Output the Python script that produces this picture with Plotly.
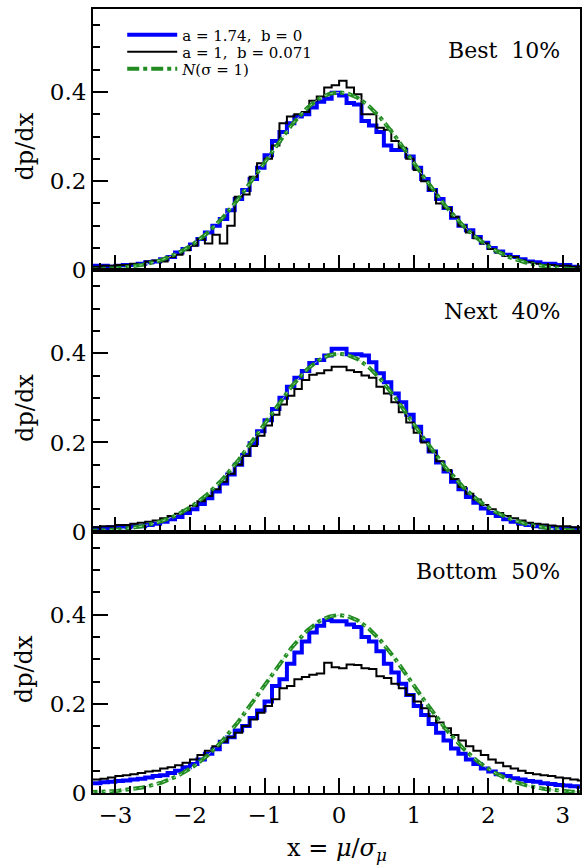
import numpy as np
import plotly.graph_objects as go
from plotly.subplots import make_subplots

# bins of width 0.1 from -3.3 to 3.3 (66 bins)
bin_edges = np.round(np.linspace(-3.3, 3.3, 67), 2)

top_blue = [0.010, 0.010, 0.008, 0.010, 0.012, 0.012, 0.015, 0.018, 0.020, 0.025, 0.030, 0.040, 0.048,
            0.058, 0.070, 0.085, 0.100, 0.115, 0.135, 0.160, 0.180, 0.205, 0.230, 0.258, 0.290, 0.310,
            0.330, 0.345, 0.350, 0.365, 0.378, 0.385, 0.398, 0.392, 0.375, 0.372, 0.335, 0.325, 0.310,
            0.280, 0.270, 0.270, 0.255, 0.230, 0.205, 0.180, 0.160, 0.140, 0.118, 0.100, 0.090, 0.075,
            0.062, 0.050, 0.042, 0.035, 0.030, 0.025, 0.020, 0.018, 0.015, 0.015, 0.012, 0.012, 0.008, 0.006]
top_black = [0.008, 0.010, 0.010, 0.012, 0.012, 0.015, 0.012, 0.020, 0.022, 0.020, 0.030, 0.035, 0.045,
             0.055, 0.070, 0.060, 0.080, 0.060, 0.100, 0.165, 0.170, 0.210, 0.240, 0.250, 0.280, 0.330,
             0.345, 0.350, 0.355, 0.380, 0.390, 0.410, 0.415, 0.425, 0.410, 0.395, 0.350, 0.350, 0.320,
             0.315, 0.290, 0.275, 0.250, 0.225, 0.200, 0.180, 0.150, 0.140, 0.120, 0.100, 0.085, 0.072,
             0.060, 0.048, 0.040, 0.032, 0.030, 0.022, 0.018, 0.015, 0.012, 0.012, 0.010, 0.010, 0.008, 0.008]
mid_blue = [0.008, 0.008, 0.010, 0.010, 0.010, 0.012, 0.012, 0.015, 0.018, 0.022, 0.028, 0.033, 0.042,
            0.050, 0.062, 0.075, 0.090, 0.108, 0.128, 0.150, 0.172, 0.198, 0.225, 0.250, 0.275, 0.300,
            0.325, 0.345, 0.360, 0.378, 0.385, 0.395, 0.410, 0.410, 0.398, 0.398, 0.395, 0.380, 0.355,
            0.335, 0.310, 0.290, 0.262, 0.235, 0.205, 0.180, 0.155, 0.135, 0.112, 0.095, 0.078, 0.065,
            0.052, 0.042, 0.035, 0.028, 0.022, 0.018, 0.015, 0.012, 0.010, 0.010, 0.008, 0.008, 0.007, 0.006]
mid_black = [0.010, 0.012, 0.012, 0.015, 0.015, 0.018, 0.020, 0.022, 0.025, 0.030, 0.035, 0.040, 0.048,
             0.058, 0.068, 0.080, 0.095, 0.112, 0.130, 0.150, 0.170, 0.192, 0.215, 0.238, 0.262, 0.285,
             0.305, 0.320, 0.340, 0.352, 0.355, 0.362, 0.370, 0.370, 0.362, 0.358, 0.350, 0.345, 0.325,
             0.310, 0.290, 0.268, 0.245, 0.222, 0.200, 0.180, 0.158, 0.138, 0.118, 0.100, 0.085, 0.072,
             0.060, 0.050, 0.042, 0.035, 0.030, 0.025, 0.020, 0.018, 0.016, 0.014, 0.012, 0.012, 0.010, 0.010]
bot_blue = [0.022, 0.024, 0.025, 0.027, 0.028, 0.030, 0.032, 0.035, 0.038, 0.040, 0.045, 0.050, 0.058,
            0.065, 0.075, 0.088, 0.098, 0.115, 0.125, 0.140, 0.150, 0.168, 0.185, 0.205, 0.240, 0.255,
            0.290, 0.315, 0.340, 0.360, 0.375, 0.388, 0.385, 0.385, 0.378, 0.372, 0.350, 0.340, 0.318,
            0.290, 0.270, 0.245, 0.220, 0.195, 0.175, 0.155, 0.135, 0.118, 0.100, 0.088, 0.075, 0.065,
            0.055, 0.048, 0.042, 0.038, 0.033, 0.030, 0.027, 0.025, 0.022, 0.020, 0.018, 0.017, 0.015, 0.014]
bot_black = [0.030, 0.032, 0.035, 0.038, 0.040, 0.042, 0.045, 0.048, 0.050, 0.055, 0.058, 0.062, 0.068,
             0.075, 0.085, 0.095, 0.105, 0.115, 0.125, 0.135, 0.150, 0.165, 0.180, 0.195, 0.210, 0.235,
             0.240, 0.255, 0.260, 0.265, 0.268, 0.292, 0.282, 0.280, 0.288, 0.287, 0.280, 0.278, 0.262,
             0.258, 0.245, 0.235, 0.220, 0.205, 0.190, 0.172, 0.158, 0.145, 0.130, 0.118, 0.105, 0.095,
             0.085, 0.075, 0.068, 0.060, 0.055, 0.050, 0.045, 0.042, 0.040, 0.038, 0.035, 0.033, 0.030, 0.028]

panel_labels = ["Best  10%", "Next  40%", "Bottom  50%"]
legend_names = ["a = 1.74,  b = 0", "a = 1,  b = 0.071", "<i>N</i>(σ = 1)"]
x_ticks = [-3, -2, -1, 0, 1, 2, 3]
y_ticks = [0, 0.2, 0.4]
y_ticktext = ["0", "0.2", "0.4"]

# reference unit Gaussian
xg = np.linspace(-3.4, 3.4, 341)
yg = np.exp(-0.5 * xg**2) / np.sqrt(2 * np.pi)

FONT = "DejaVu Serif"
fig = make_subplots(rows=3, cols=1, shared_xaxes=True, vertical_spacing=0)

legend_ids = ["legend", "legend2", "legend3"]
panels = [(top_blue, top_black), (mid_blue, mid_black), (bot_blue, bot_black)]
for i, (blue, black) in enumerate(panels):
    r = i + 1
    fig.add_trace(go.Scatter(x=bin_edges, y=list(blue) + [blue[-1]], mode="lines", line_shape="hv",
                             line=dict(color="#0000ff", width=4), name=legend_names[0],
                             legend=legend_ids[0], showlegend=(i == 0)), row=r, col=1)
    fig.add_trace(go.Scatter(x=bin_edges, y=list(black) + [black[-1]], mode="lines", line_shape="hv",
                             line=dict(color="black", width=2), name=legend_names[1],
                             legend=legend_ids[1], showlegend=(i == 0)), row=r, col=1)
    fig.add_trace(go.Scatter(x=xg, y=yg, mode="lines",
                             line=dict(color="#228b22", width=4, dash="dashdot"), name=legend_names[2],
                             legend=legend_ids[2], showlegend=(i == 0)), row=r, col=1)
    fig.add_trace(go.Scatter(x=xg, y=yg, mode="lines",
                             line=dict(color="#9fdc9f", width=1, dash="dot"),
                             showlegend=False, hoverinfo="skip"), row=r, col=1)

axis_common = dict(showline=True, linecolor="black", linewidth=2, mirror=True, ticks="inside",
                   ticklen=15, tickwidth=1.5, tickcolor="black", showgrid=False, zeroline=False,
                   tickfont=dict(family=FONT, size=23, color="black"))
for r in range(1, 4):
    fig.update_xaxes(range=[-3.3, 3.23], tickvals=x_ticks,
                     minor=dict(dtick=0.2, tick0=0, ticklen=7, tickwidth=1.5, tickcolor="black",
                                ticks="inside", showgrid=False),
                     row=r, col=1, **axis_common)
    fig.update_yaxes(range=[0, 0.586], tickvals=y_ticks, ticktext=y_ticktext,
                     minor=dict(dtick=0.05, tick0=0, ticklen=7, tickwidth=1.5, tickcolor="black",
                                ticks="inside", showgrid=False),
                     row=r, col=1, **axis_common)

annotations = []
label_y = [0.947, 0.614, 0.283]
centers = [5 / 6 - 0.009, 0.5 - 0.009, 1 / 6 - 0.009]
for i in range(3):
    annotations.append(dict(text=panel_labels[i], xref="paper", yref="paper", x=0.963, y=label_y[i],
                            xanchor="right", yanchor="middle", showarrow=False,
                            font=dict(family=FONT, size=22, color="black")))
    annotations.append(dict(text="dp/dx", xref="paper", yref="paper", x=-0.14, y=centers[i],
                            xanchor="center", yanchor="middle", textangle=-90, showarrow=False,
                            font=dict(family=FONT, size=24, color="black")))
annotations.append(dict(text="x = <i>μ</i>/<i>σ</i><sub><i>μ</i></sub>", xref="paper", yref="paper",
                        x=(338 - 93) / 489, y=-0.072, xanchor="center", yanchor="middle",
                        showarrow=False, font=dict(family=FONT, size=24, color="black")))

legend_rows_y = [(793 - 35) / 784, (793 - 52) / 784, (793 - 69) / 784]
legend_style = dict(x=0.06, xanchor="left", yanchor="middle", bgcolor="rgba(0,0,0,0)",
                    font=dict(family=FONT, size=15, color="black"), itemwidth=50,
                    borderwidth=0, tracegroupgap=0)

fig.update_layout(width=587, height=865, margin=dict(l=93, r=5, t=9, b=72),
                  plot_bgcolor="white", paper_bgcolor="white", annotations=annotations,
                  legend=dict(y=legend_rows_y[0], **legend_style),
                  legend2=dict(y=legend_rows_y[1], **legend_style),
                  legend3=dict(y=legend_rows_y[2], **legend_style))

fig.write_html("out.html")
